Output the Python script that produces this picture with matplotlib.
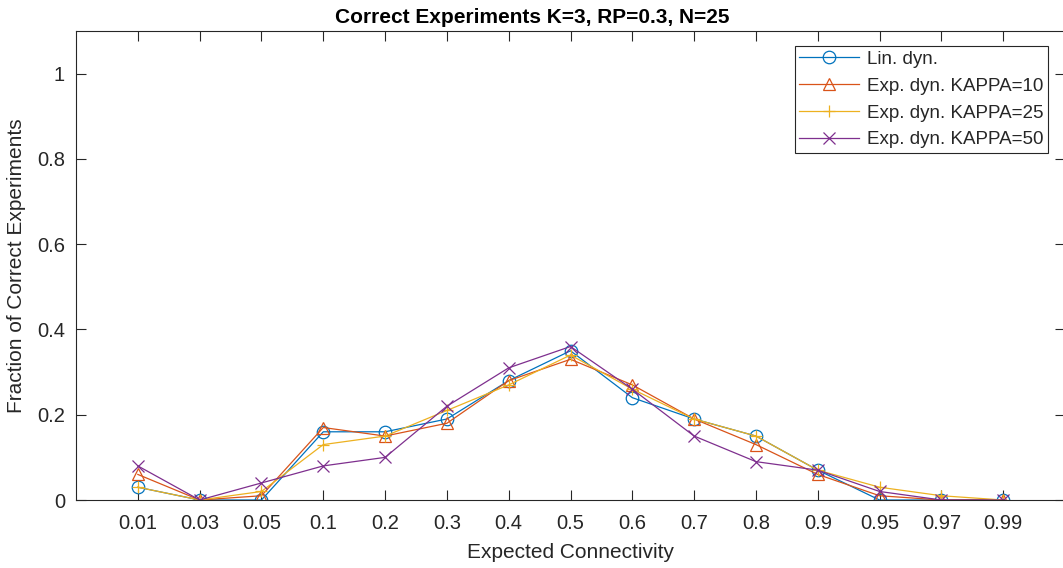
import numpy as np
import matplotlib.pyplot as plt

plt.rcParams['font.family'] = ['Liberation Sans', 'DejaVu Sans']

categories = ['0.01', '0.03', '0.05', '0.1', '0.2', '0.3', '0.4', '0.5',
              '0.6', '0.7', '0.8', '0.9', '0.95', '0.97', '0.99']
lin_dyn = [0.03, 0, 0, 0.16, 0.16, 0.19, 0.28, 0.35, 0.24, 0.19, 0.15, 0.07, 0, 0, 0]
exp_k10 = [0.06, 0, 0.01, 0.17, 0.15, 0.18, 0.28, 0.33, 0.27, 0.19, 0.13, 0.06, 0.01, 0, 0]
exp_k25 = [0.03, 0, 0.02, 0.13, 0.15, 0.21, 0.27, 0.34, 0.26, 0.19, 0.15, 0.07, 0.03, 0.01, 0]
exp_k50 = [0.08, 0, 0.04, 0.08, 0.10, 0.22, 0.31, 0.36, 0.26, 0.15, 0.09, 0.07, 0.02, 0, 0]

series = [
    ('Lin. dyn.', lin_dyn, '#0072BD', 'o'),
    ('Exp. dyn. KAPPA=10', exp_k10, '#D95319', '^'),
    ('Exp. dyn. KAPPA=25', exp_k25, '#EDB120', '+'),
    ('Exp. dyn. KAPPA=50', exp_k50, '#7E2F8E', 'x'),
]

txt = '#262626'
fig = plt.figure(figsize=(10.63, 5.68), dpi=100)
ax = fig.add_axes([0.0715, 0.1197, 0.9304, 0.8257])

x = np.arange(1, len(categories) + 1)
for label, vals, col, mk in series:
    ax.plot(x, vals, color=col, marker=mk, markersize=9, markerfacecolor='none',
            markeredgecolor=col, markeredgewidth=0.9, linewidth=0.9, label=label)

ax.set_xlim(0, 16)
ax.set_ylim(0, 1.1)
ax.set_xticks(x)
ax.set_xticklabels(categories)
ax.set_yticks([0, 0.2, 0.4, 0.6, 0.8, 1])
ax.set_yticklabels(['0', '0.2', '0.4', '0.6', '0.8', '1'])
ax.tick_params(direction='in', length=7, width=0.8, colors=txt, labelsize=14.5,
               top=True, right=True)
ax.tick_params(axis='x', pad=10)
ax.tick_params(axis='y', pad=8)
for s in ax.spines.values():
    s.set_color(txt)
    s.set_linewidth(0.8)

ax.set_xlabel('Expected Connectivity', fontsize=15, color=txt, labelpad=7)
ax.set_ylabel('Fraction of Correct Experiments', fontsize=15, color=txt, labelpad=8)
# title sits a bit left of the axes centre in the original
ax.set_title('Correct Experiments K=3, RP=0.3, N=25', fontsize=15, fontweight='bold',
             color='black', pad=6, x=0.461)

leg = ax.legend(loc='upper right', bbox_to_anchor=(0.986, 0.919), bbox_transform=fig.transFigure,
                borderaxespad=0, fontsize=13.5, handlelength=3.2, fancybox=False,
                framealpha=1, edgecolor=txt, labelspacing=0.52, borderpad=0.25,
                handletextpad=0.4)
leg.get_frame().set_linewidth(0.8)
for t in leg.get_texts():
    t.set_color(txt)

fig.savefig('out.png', dpi=100)
